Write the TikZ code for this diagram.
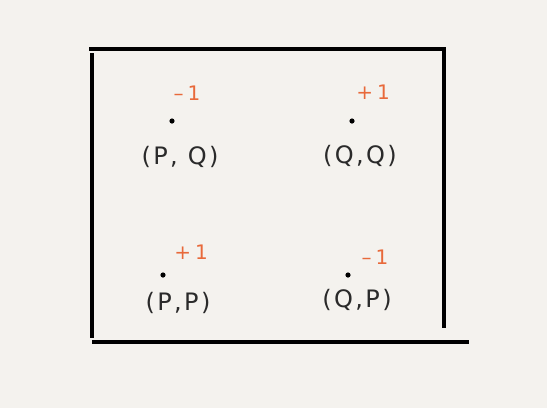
\documentclass[tikz,border=0pt]{standalone}
\usepackage{fontspec}
\setmainfont{DejaVu Sans}
\definecolor{bg}{HTML}{F4F2EE}
\definecolor{score}{HTML}{E8693A}
\definecolor{ink}{HTML}{2A2A2A}
\begin{document}
\begin{tikzpicture}[x=1pt,y=-1pt,
  frame/.style={line width=3.2pt,black},
  pt/.style={circle,fill=black,inner sep=0pt,minimum size=5.2pt},
  pair/.style={font=\fontsize{24}{27}\selectfont\addfontfeatures{LetterSpace=10},text=ink,inner sep=0pt},
  val/.style={font=\fontsize{20}{23}\selectfont\addfontfeatures{LetterSpace=20},text=score,inner sep=0pt}]
\fill[bg] (0,0) rectangle (547,408);
\useasboundingbox (0,0) rectangle (547,408);
\coordinate (tl) at (89,49); \coordinate (tr) at (446,49);
\coordinate (lt) at (92,53); \coordinate (lb) at (92,338);
\coordinate (rt) at (444,51); \coordinate (rb) at (444,328);
\coordinate (bl) at (92,342); \coordinate (br) at (469,342);
\draw[frame] (tl) -- (tr);
\draw[frame] (lt) -- (lb);
\draw[frame] (rt) -- (rb);
\draw[frame] (bl) -- (br);
\node[val] (v1) at (187,93) {–1};
\node[pt] (d1) at (172,121) {};
\node[pair] (p1) at (180,157) {(P, Q)};
\node[val] (v2) at (373,92) {+1};
\node[pt] (d2) at (352,121) {};
\node[pair] (p2) at (360,156) {(Q,Q)};
\node[val] (v3) at (191,252) {+1};
\node[pt] (d3) at (163,275) {};
\node[pair] (p3) at (178,303) {(P,P)};
\node[val] (v4) at (375,257) {–1};
\node[pt] (d4) at (348,275) {};
\node[pair] (p4) at (357,300) {(Q,P)};
\end{tikzpicture}
\end{document}
